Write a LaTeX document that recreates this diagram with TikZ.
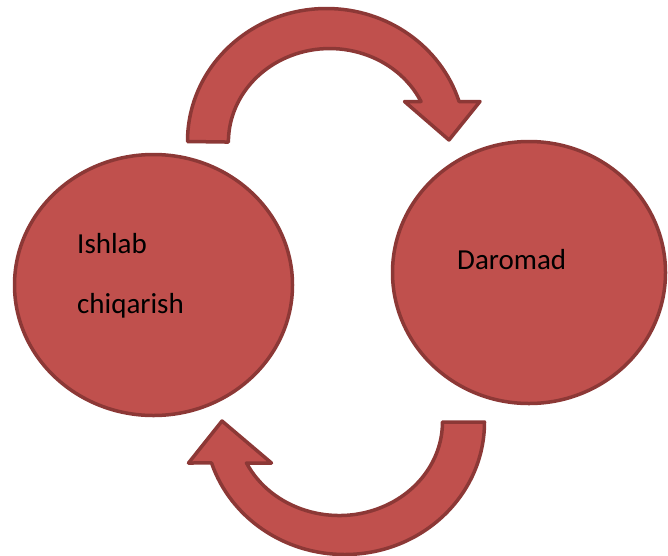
\documentclass[tikz,border=0pt]{standalone}
\usepackage{fontspec}
\setmainfont{Carlito}
\usetikzlibrary{shapes.geometric}
\definecolor{redfill}{HTML}{C0504D}
\definecolor{redline}{HTML}{8C3836}
\begin{document}
\begin{tikzpicture}[x=1pt,y=1pt,
  blob/.style={ellipse, draw=redline, fill=redfill, line width=3.5pt, inner sep=0pt},
  bent/.style={draw=redline, fill=redfill, line width=3.5pt, line join=round},
  lbl/.style={anchor=base west, inner sep=0pt, font=\fontsize{29}{34}\selectfont, text=black}]
\useasboundingbox (0,0) rectangle (668,-555);
\node[blob, minimum width=278pt, minimum height=261pt] (prod) at (153.5,-285) {};
\node[blob, minimum width=273pt, minimum height=262pt] (inc) at (529,-272.5) {};
\node[lbl] (t1) at (77,-253) {Ishlab};
\node[lbl] (t2) at (77,-313) {chiqarish};
\node[lbl] (t3) at (457,-269) {Daromad};
% top curved arrow
\draw[bent] (187.5,-141.5) arc[start angle=180, end angle=17.5, x radius=139, y radius=133]
  -- (480,-101.5) -- (449,-140) -- (404.5,-101.5) -- (421,-101.5)
  arc[start angle=25.7, end angle=180, x radius=101.3, y radius=93.5] -- cycle;
% bottom curved arrow
\draw[bent] (484.5,-422) arc[start angle=0, end angle=-162, x radius=139.9, y radius=132.5]
  -- (188.5,-463) -- (222,-421) -- (271.5,-463) -- (246.5,-463)
  arc[start angle=-154, end angle=0, x radius=103.2, y radius=93.5] -- cycle;
\end{tikzpicture}
\end{document}
